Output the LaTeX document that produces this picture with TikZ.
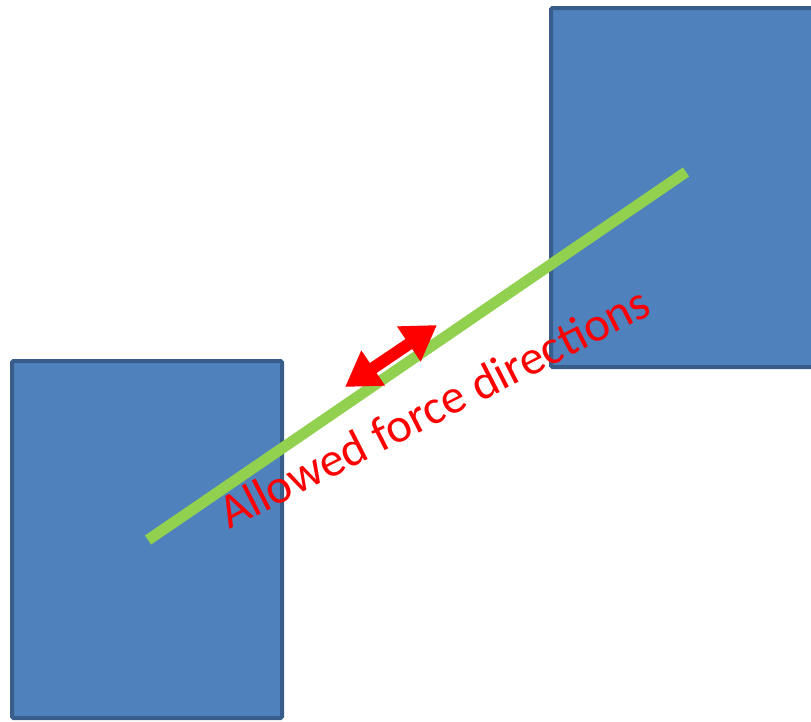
\documentclass[tikz,border=0pt]{standalone}
\usepackage{fontspec}
\newfontfamily\labelfont{Carlito}
\usetikzlibrary{arrows.meta}
\definecolor{boxblue}{HTML}{4F81BD}
\definecolor{boxedge}{HTML}{385D8A}
\definecolor{rodgreen}{HTML}{92D050}
\begin{document}
\begin{tikzpicture}[x=1pt,y=-1pt]
\tikzset{block/.style={fill=boxblue,draw=boxedge,line width=4pt,rounded corners=1.5pt}}
\clip (0,0) rectangle (811,721);

\coordinate (L1) at (12,361);
\coordinate (L2) at (282,718);
\coordinate (R1) at (551,8);
\coordinate (R2) at (830,367);
\coordinate (P) at (148,540);
\coordinate (Q) at (686,172);
\coordinate (F1) at (345,387);
\coordinate (F2) at (437,325);

\draw[block] (L1) rectangle (L2);
\draw[block] (R1) rectangle (R2);

\draw[rodgreen,line width=11pt] (P) -- (Q);

\draw[red,line width=12pt,{Triangle[length=34pt,width=40pt]}-{Triangle[length=34pt,width=40pt]}] (F1) -- (F2);

\node[red,anchor=base west,rotate=27,inner sep=0pt,font=\labelfont\fontsize{48.5}{52}\selectfont] (lbl) at (229,530) {Allowed force directions};
\end{tikzpicture}
\end{document}
